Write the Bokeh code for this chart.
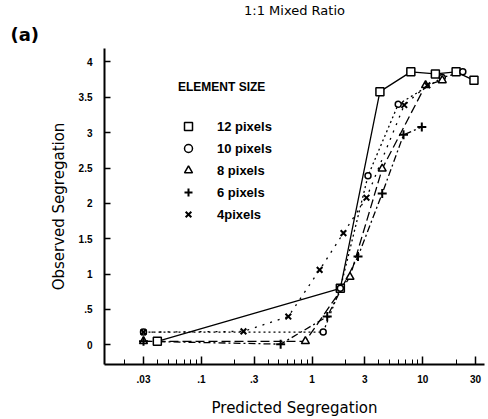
from bokeh.plotting import figure
from bokeh.models import FixedTicker, Legend, LegendItem, Title
from bokeh.embed import file_html
from bokeh.resources import INLINE

# ---- data ----
px12_x = [0.04, 1.8, 4.1, 7.8, 13, 20, 29]
px12_y = [0.05, 0.80, 3.58, 3.86, 3.83, 3.86, 3.74]

px10_x = [0.03, 1.26, 1.8, 3.2, 6.0, 15, 23]
px10_y = [0.18, 0.18, 0.80, 2.39, 3.40, 3.78, 3.86]

px8_x = [0.03, 0.87, 2.2, 4.3, 10.6, 15]
px8_y = [0.05, 0.05, 0.96, 2.49, 3.67, 3.74]

px6_x = [0.03, 0.52, 1.37, 2.6, 4.3, 6.7, 9.8]
px6_y = [0.05, 0.01, 0.40, 1.25, 2.14, 2.97, 3.08]

px4_x = [0.03, 0.24, 0.61, 1.17, 1.92, 3.1, 6.8, 11]
px4_y = [0.18, 0.19, 0.40, 1.06, 1.58, 2.08, 3.39, 3.67]

series_labels = ["12 pixels", "10 pixels", "8 pixels", "6 pixels", "4pixels"]

x_ticks = [0.03, 0.1, 0.3, 1, 3, 10, 30]
x_tick_labels = [".03", ".1", ".3", "1", "3", "10", "30"]
y_ticks = [0, 0.5, 1, 1.5, 2, 2.5, 3, 3.5, 4]
y_tick_labels = ["0", ".5", "1", "1.5", "2", "2.5", "3", "3.5", "4"]

# ---- figure ----
p = figure(width=488, height=419, x_axis_type="log",
           x_range=(0.01333, 36.1), y_range=(-0.278, 4.19),
           output_backend="svg", toolbar_location=None,
           min_border_left=104, min_border_right=4,
           min_border_top=45, min_border_bottom=52)
p.outline_line_color = None
p.xgrid.visible = False
p.ygrid.visible = False
p.background_fill_color = "white"

FONT = "Liberation Sans"
INK = "black"

# titles
p.add_layout(Title(text="(a)", align="left", offset=-94, standoff=8,
                   text_font="DejaVu Sans", text_font_style="bold",
                   text_font_size="18px", text_color=INK), "above")
p.add_layout(Title(text="1:1 Mixed Ratio", align="center", standoff=0,
                   text_font="DejaVu Sans", text_font_style="normal",
                   text_font_size="13px", text_color=INK), "above")

# x axis
xa = p.xaxis[0]
minor = [m * 10.0 ** e for e in range(-2, 2) for m in range(2, 10)]
xa.ticker = FixedTicker(ticks=x_ticks, minor_ticks=minor)
xa.major_label_overrides = dict(zip(x_ticks, x_tick_labels))
xa.major_tick_in = 8
xa.major_tick_out = 0
xa.minor_tick_in = 5
xa.minor_tick_out = 0
xa.axis_line_width = 2
xa.axis_line_color = INK
xa.major_tick_line_color = INK
xa.minor_tick_line_color = INK
xa.major_tick_line_width = 1.5
xa.major_label_standoff = 10
xa.major_label_text_font = FONT
xa.major_label_text_font_style = "bold"
xa.major_label_text_font_size = "10px"
xa.major_label_text_color = INK
xa.axis_label = "Predicted Segregation"
xa.axis_label_text_font = "DejaVu Sans"
xa.axis_label_text_font_style = "normal"
xa.axis_label_text_font_size = "15px"
xa.axis_label_text_color = INK
xa.axis_label_standoff = 13

# y axis
ya = p.yaxis[0]
ya.ticker = FixedTicker(ticks=y_ticks, minor_ticks=[])
ya.major_label_overrides = dict(zip(y_ticks, y_tick_labels))
ya.major_tick_in = 6
ya.major_tick_out = 0
ya.axis_line_width = 2
ya.axis_line_color = INK
ya.major_tick_line_color = INK
ya.major_tick_line_width = 1.5
ya.major_label_standoff = 12
ya.major_label_text_font = FONT
ya.major_label_text_font_style = "bold"
ya.major_label_text_font_size = "10px"
ya.major_label_text_color = INK
ya.axis_label = "Observed Segregation"
ya.axis_label_text_font = "DejaVu Sans"
ya.axis_label_text_font_style = "normal"
ya.axis_label_text_font_size = "15px"
ya.axis_label_text_color = INK
ya.axis_label_standoff = 8

# ---- series ----
lw = 1.3
p.line(px12_x, px12_y, line_color=INK, line_width=lw)
p.line(px10_x, px10_y, line_color=INK, line_width=lw, line_dash="2 3")
p.line(px8_x, px8_y, line_color=INK, line_width=lw, line_dash="9 4")
p.line(px6_x, px6_y, line_color=INK, line_width=lw, line_dash="7 3 2 3")
p.line(px4_x, px4_y, line_color=INK, line_width=lw, line_dash="2 6")

r12 = p.scatter(px12_x, px12_y, marker="square", size=8, fill_color="white",
                line_color=INK, line_width=1.5)
r10 = p.scatter(px10_x, px10_y, marker="circle", size=6, fill_color="white",
                line_color=INK, line_width=1.5)
r8 = p.scatter(px8_x, px8_y, marker="triangle", size=8, fill_color="white",
               line_color=INK, line_width=1.5)
r6 = p.scatter(px6_x, px6_y, marker="cross", size=9, line_color=INK,
               line_width=2)
r4 = p.scatter(px4_x, px4_y, marker="x", size=8, line_color=INK,
               line_width=2)

legend = Legend(items=[LegendItem(label=l, renderers=[r])
                       for l, r in zip(series_labels, [r12, r10, r8, r6, r4])],
                location=(74, 140), title="ELEMENT SIZE")
legend.border_line_color = None
legend.background_fill_alpha = 0
legend.padding = 0
legend.margin = 0
legend.spacing = 2
legend.glyph_width = 20
legend.glyph_height = 20
legend.label_height = 20
legend.label_standoff = 19
legend.label_text_font = FONT
legend.label_text_font_style = "bold"
legend.label_text_font_size = "13px"
legend.label_text_color = INK
legend.title_text_font = FONT
legend.title_text_font_style = "bold"
legend.title_text_font_size = "12px"
legend.title_text_color = INK
legend.title_standoff = 22
p.add_layout(legend, "center")

open("out.html", "w").write(file_html(p, INLINE))
